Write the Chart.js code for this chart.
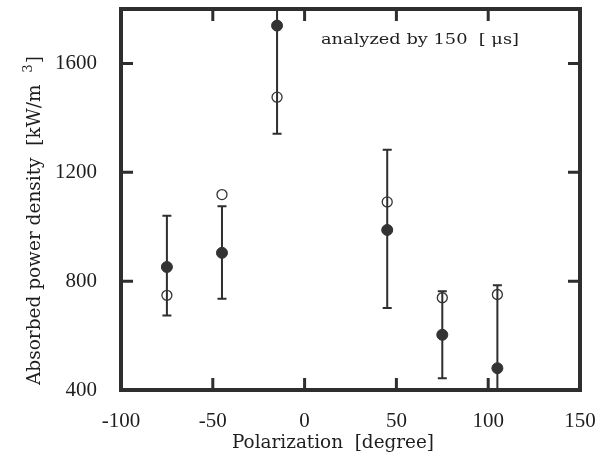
<!DOCTYPE html>
<html><head><meta charset="utf-8">
<script src="https://cdn.jsdelivr.net/npm/chart.js@4.4.0/dist/chart.umd.min.js"></script>
<style>html,body{margin:0;padding:0;background:#fff;overflow:hidden;}</style>
</head><body>
<canvas id="c" width="610" height="455"></canvas>
<script>
// ---- data ----
const polarization   = [-75, -45, -15, 45, 75, 105];
const filledValues   = [852, 904, 1739, 988, 603, 480];
const filledErrLow   = [674, 735, 1342, 701, 443, 175];
const filledErrHigh  = [1040, 1075, 2136, 1283, 763, 785];
const openValues     = [748, 1118, 1476, 1091, 739, 751];
const xTickValues    = [-100, -50, 0, 50, 100, 150];
const yTickValues    = [400, 600, 800, 1000, 1200, 1400, 1600, 1800];
const yLabelValues   = [400, 800, 1200, 1600];
const xTitle = 'Polarization  [degree]';
const yTitle = 'Absorbed power density  [kW/m';
const yTitleSup = '3';
const yTitleEnd = ']';
const annotationText = 'analyzed by 150  [ \u03bcs]';

const INK = '#2e2e2e';
const TEXT = '#1e1e1e';
const SERIF = '"Liberation Serif", "DejaVu Serif", serif';
const WIDE = '"DejaVu Serif", "Liberation Serif", serif';

const toPts = (xs, ys) => xs.map((x, i) => ({x: x, y: ys[i]}));

// draw text starting at (x,y) stretched horizontally to a target width
function fitText(ctx, text, x, y, font, width) {
  ctx.save();
  ctx.font = font;
  ctx.textAlign = 'left';
  ctx.textBaseline = 'alphabetic';
  const w = ctx.measureText(text).width;
  ctx.translate(x, y);
  ctx.scale(width / w, 1);
  ctx.fillText(text, 0, 0);
  ctx.restore();
}

const framePlugin = {
  id: 'frame',
  beforeDatasetsDraw(chart) {
    const {ctx, chartArea: a, scales: {x, y}} = chart;
    ctx.save();
    ctx.beginPath();
    ctx.rect(a.left, a.top, a.right - a.left, a.bottom - a.top);
    ctx.clip();
    ctx.strokeStyle = INK;
    ctx.lineWidth = 2;
    const cap = 4.5;
    polarization.forEach((p, i) => {
      const px = x.getPixelForValue(p);
      const yl = y.getPixelForValue(filledErrLow[i]);
      const yh = y.getPixelForValue(filledErrHigh[i]);
      ctx.beginPath();
      ctx.moveTo(px, yl); ctx.lineTo(px, yh);
      ctx.moveTo(px - cap, yl); ctx.lineTo(px + cap, yl);
      ctx.moveTo(px - cap, yh); ctx.lineTo(px + cap, yh);
      ctx.stroke();
    });
    ctx.restore();
  },
  afterDraw(chart) {
    const {ctx, chartArea: a, scales: {x, y}} = chart;
    ctx.save();
    ctx.strokeStyle = INK;
    ctx.lineWidth = 3;
    const tl = 12;
    ctx.beginPath();
    x.ticks.forEach(t => {
      if (t.value <= x.min || t.value >= x.max) return;
      const px = x.getPixelForValue(t.value);
      ctx.moveTo(px, a.bottom); ctx.lineTo(px, a.bottom - tl);
      ctx.moveTo(px, a.top); ctx.lineTo(px, a.top + tl);
    });
    y.ticks.forEach(t => {
      if (t.value <= y.min || t.value >= y.max) return;
      const py = y.getPixelForValue(t.value);
      ctx.moveTo(a.left, py); ctx.lineTo(a.left + tl, py);
      ctx.moveTo(a.right, py); ctx.lineTo(a.right - tl, py);
    });
    ctx.stroke();
    ctx.lineWidth = 4;
    ctx.strokeRect(a.left, a.top, a.right - a.left, a.bottom - a.top);

    ctx.fillStyle = TEXT;
    // annotation
    fitText(ctx, annotationText, 321, 43.5, '15px ' + WIDE, 198);
    // x title
    fitText(ctx, xTitle, 232, 448, '18px ' + WIDE, 202);

    // y title (rotated) with superscript
    ctx.save();
    ctx.translate(40, 385);
    ctx.rotate(-Math.PI / 2);
    const mainFont = '18px ' + WIDE, supFont = '13px ' + WIDE;
    ctx.font = mainFont;
    const w1 = ctx.measureText(yTitle + '  ').width;
    const w3 = ctx.measureText(yTitleEnd).width;
    ctx.font = supFont;
    const w2 = ctx.measureText(yTitleSup).width + 1;
    const total = w1 + w2 + w3;
    ctx.scale(329 / total, 1);
    ctx.textAlign = 'left';
    ctx.textBaseline = 'alphabetic';
    ctx.font = mainFont;
    ctx.fillText(yTitle, 0, 0);
    ctx.font = supFont;
    ctx.fillText(yTitleSup, w1, -8);
    ctx.font = mainFont;
    ctx.fillText(yTitleEnd, w1 + w2, 0);
    ctx.restore();
    ctx.restore();
  }
};

new Chart(document.getElementById('c'), {
  type: 'scatter',
  data: {
    datasets: [
      {
        label: 'filled',
        data: toPts(polarization, filledValues),
        pointRadius: 5.5,
        pointBackgroundColor: '#333',
        pointBorderColor: '#333',
        pointBorderWidth: 1
      },
      {
        label: 'open',
        data: toPts(polarization, openValues),
        pointRadius: 5,
        pointBackgroundColor: 'rgba(0,0,0,0)',
        pointBorderColor: '#333',
        pointBorderWidth: 1.3
      }
    ]
  },
  options: {
    responsive: false,
    animation: false,
    devicePixelRatio: 1,
    layout: {padding: {left: 0, right: 30, top: 9, bottom: 0}},
    plugins: {legend: {display: false}, tooltip: {enabled: false}},
    scales: {
      x: {
        type: 'linear', min: -100, max: 150,
        afterBuildTicks: s => { s.ticks = xTickValues.map(v => ({value: v})); },
        afterFit: s => { s.height = 65; s.paddingLeft = 0; s.paddingRight = 0; },
        grid: {display: false, drawTicks: false},
        border: {display: false},
        ticks: {
          padding: 19, color: TEXT, maxRotation: 0, autoSkip: false,
          font: {family: SERIF, size: 21},
          callback: v => String(v)
        }
      },
      y: {
        type: 'linear', min: 400, max: 1800,
        afterBuildTicks: s => { s.ticks = yTickValues.map(v => ({value: v})); },
        afterFit: s => { s.width = 121; s.paddingTop = 0; s.paddingBottom = 0; },
        grid: {display: false, drawTicks: false},
        border: {display: false},
        ticks: {
          padding: 24, color: TEXT, autoSkip: false,
          font: {family: SERIF, size: 21},
          callback: v => yLabelValues.includes(v) ? String(v) : null
        }
      }
    }
  },
  plugins: [framePlugin]
});
</script>
</body></html>
